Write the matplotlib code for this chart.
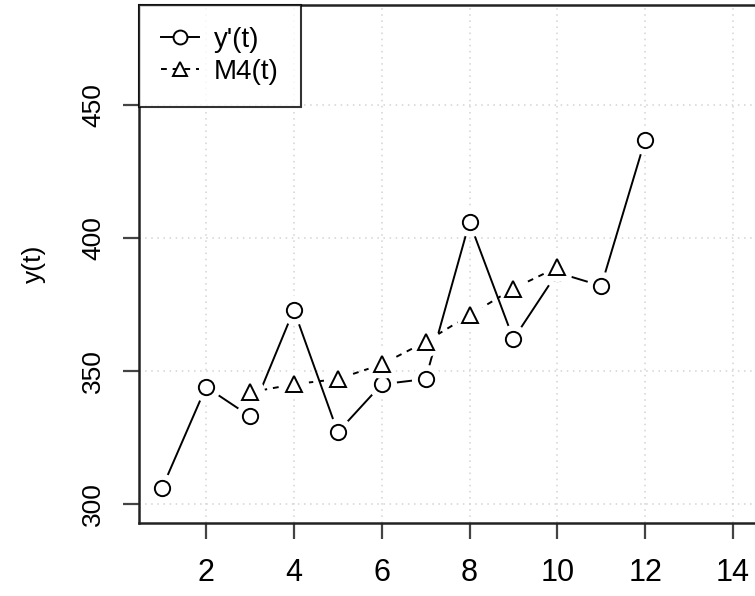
import numpy as np
import matplotlib.pyplot as plt

plt.rcParams['font.family'] = ['Liberation Sans', 'DejaVu Sans']

# Data
t_obs = [1, 2, 3, 4, 5, 6, 7, 8, 9, 10, 11, 12]
y_obs = [306, 344, 333, 373, 327, 345, 347, 406, 362, 387, 382, 437]

t_ma = [3, 4, 5, 6, 7, 8, 9, 10]
m4 = [342, 345, 347, 352.5, 361, 371, 381, 389]

x_ticks = [2, 4, 6, 8, 10, 12, 14]
y_ticks = [300, 350, 400, 450]

fig = plt.figure(figsize=(7.55, 5.96), dpi=100)
# right edge of the plot box falls just outside the picture
ax = fig.add_axes([139 / 755, 73 / 596, 621 / 755, 518 / 596])

ax.set_xlim(0.474, 14.615)
ax.set_ylim(292.86, 487.6)

# grid like R's grid()
for xv in x_ticks:
    ax.axvline(xv, color='lightgray', lw=1.1, ls=(0, (1, 3)), zorder=0)
for yv in y_ticks:
    ax.axhline(yv, color='lightgray', lw=1.1, ls=(0, (1, 3)), zorder=0)


def type_b(x, y, marker, ls, z):
    # R type="b": line segments with gaps around the points
    ax.plot(x, y, color='black', lw=1.4, ls=ls, zorder=z)
    ax.plot(x, y, ls='none', marker='o', ms=21, mfc='white', mec='none', zorder=z + 0.1)
    ax.plot(x, y, ls='none', marker=marker, ms=11, mfc='white', mec='black',
            mew=1.4, zorder=z + 0.2)


type_b(t_obs, y_obs, 'o', '-', 2)
type_b(t_ma, m4, '^', (0, (3, 3)), 3)

h1, = ax.plot([], [], color='black', lw=1.4, marker='o', ms=10, mfc='white', mew=1.4)
h2, = ax.plot([], [], color='black', lw=1.4, ls=(0, (3, 3)), marker='^', ms=10,
              mfc='white', mew=1.4)
leg = ax.legend([h1, h2], ["y'(t)", "M4(t)"], loc='upper left', fontsize=20,
                frameon=True, fancybox=False, borderaxespad=0, handlelength=1.35,
                handletextpad=0.55, borderpad=0.8, labelspacing=0.2)
leg.get_frame().set_edgecolor('black')
leg.get_frame().set_linewidth(1.5)

ax.set_xticks(x_ticks)
ax.set_yticks(y_ticks)
ax.tick_params(axis='both', direction='out', length=11.5, width=1.6,
               color='#444444')
ax.tick_params(axis='x', pad=14, labelsize=22)
ax.tick_params(axis='y', pad=13, labelsize=19)
for lab in ax.get_yticklabels():
    lab.set_rotation(90)
    lab.set_va('center')

for sp in ax.spines.values():
    sp.set_linewidth(1.8)
    sp.set_color('#222222')

ax.set_ylabel('y(t)', fontsize=19, labelpad=25)

fig.savefig('out.png', dpi=100)
